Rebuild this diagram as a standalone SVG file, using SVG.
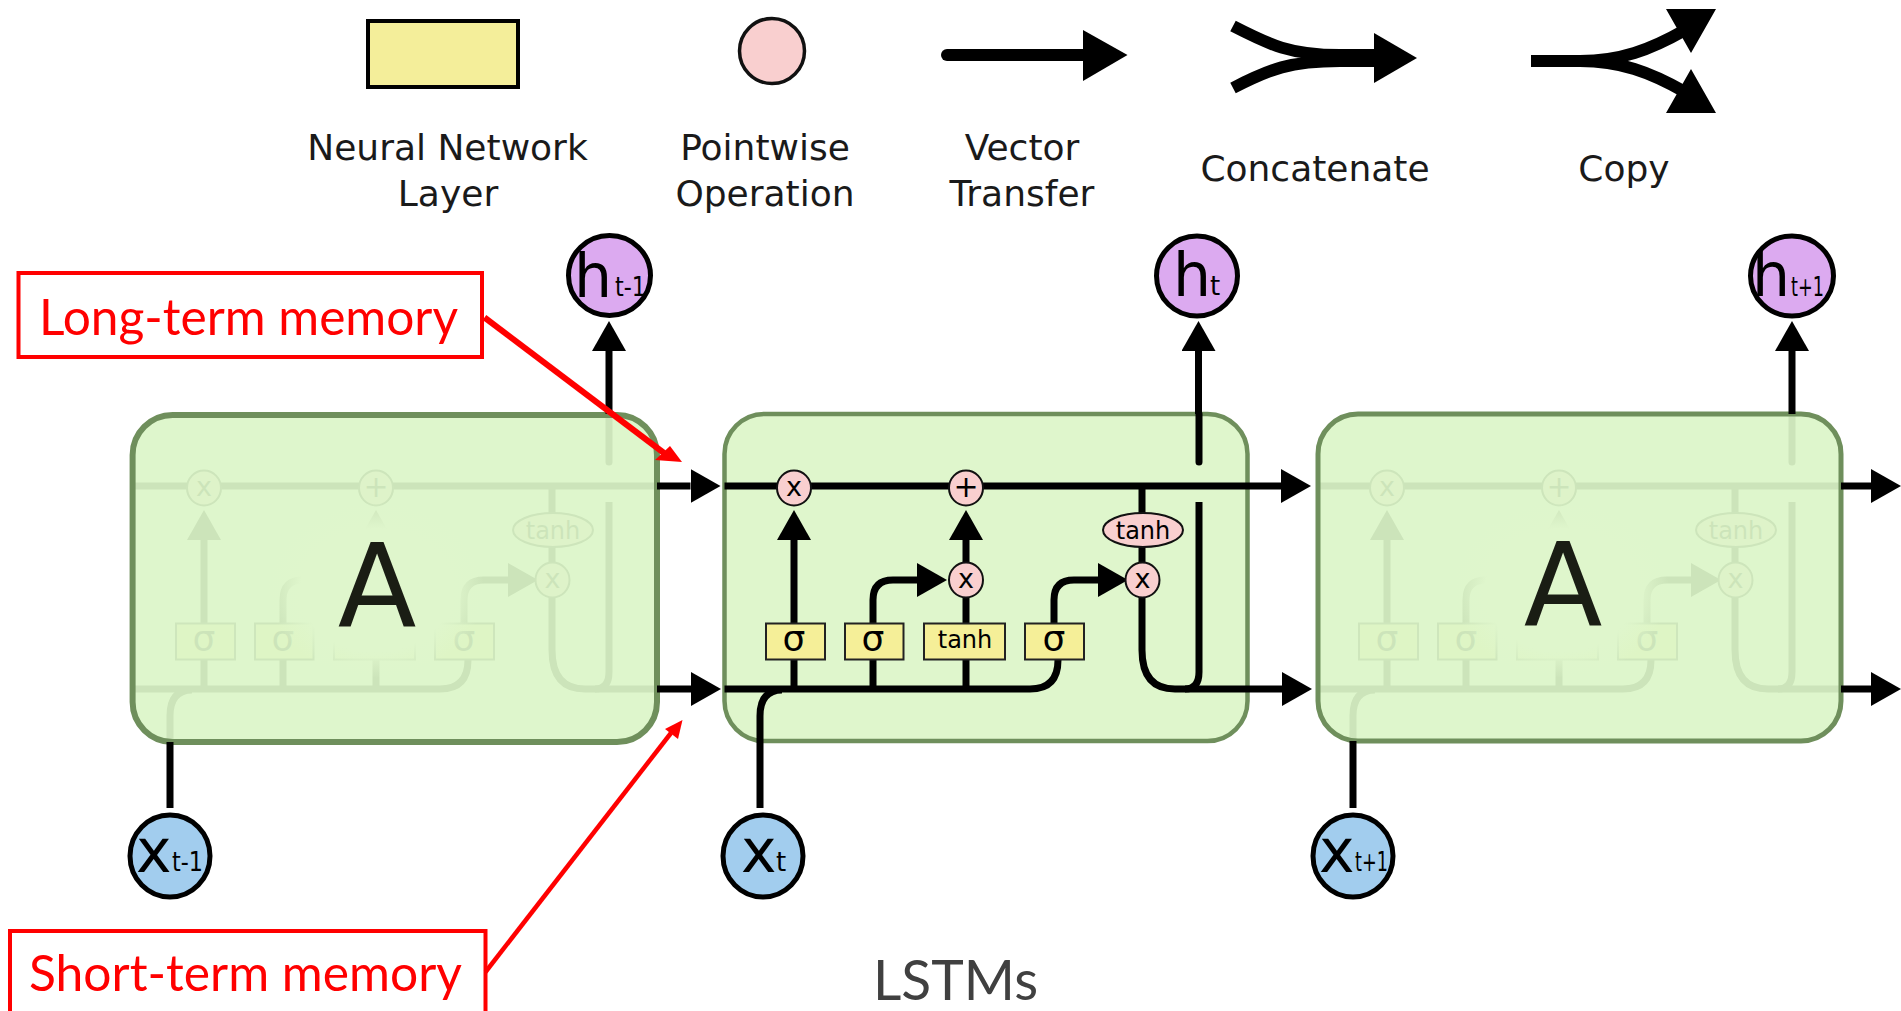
<svg xmlns="http://www.w3.org/2000/svg" width="1901" height="1011" viewBox="0 0 1901 1011">
<style>
text{font-family:"DejaVu Sans",sans-serif;fill:#000;text-anchor:middle}
.legend{font-size:36px;fill:#1a1a1a}
.ln{fill:none;stroke:#000;stroke-width:7;stroke-linecap:butt}
.arrow{marker-end:url(#head)}
.lgl{fill:none;stroke:#000;stroke-width:12}
.tip{fill:#000}
.op{fill:#f9cfcf;stroke:#111;stroke-width:2}
.layer{fill:#f5ef98;stroke:#222;stroke-width:2}
.sig{font-size:36px}
.tanh{font-size:24px}
.opt{font-size:27px}
.cell{stroke:#6f8f5c;stroke-width:5;fill:#dcf5c8}
.veil{fill-opacity:.93}
.big{font-size:115px;fill:#1a1d14}
.h{fill:#dcaaf0;stroke:#000;stroke-width:5}
.x{fill:#a2cdee;stroke:#000;stroke-width:5}
.main{text-anchor:start;font-size:60px}
.sub{text-anchor:start;font-size:26px}
.red{fill:#fff;stroke:#f00;stroke-width:4}
.note{font-family:Lato,"Open Sans",sans-serif;font-size:50px;fill:#f00;text-anchor:start}
.rl{stroke:#f00;fill:none}
</style>
<defs>
<marker id="head" markerUnits="userSpaceOnUse" markerWidth="30" markerHeight="34" refX="0" refY="17" orient="auto"><path d="M0,0L30,17L0,34Z" fill="#000"/></marker>
<radialGradient id="glow"><stop offset="0" stop-color="#dff6cc"/><stop offset=".7" stop-color="#dff6cc"/><stop offset="1" stop-color="#dff6cc" stop-opacity="0"/></radialGradient>
</defs>

<g id="legend-layer"><rect x="368" y="21" width="150" height="66" fill="#f4ee9a" stroke="#000" stroke-width="4"/><text class="legend" x="447.500" y="160">Neural Network</text><text class="legend" x="448" y="206">Layer</text></g>
<g id="legend-operation"><circle cx="772" cy="51" r="32.500" fill="#f9cfcf" stroke="#111" stroke-width="3.500"/><text class="legend" x="765" y="160">Pointwise</text><text class="legend" x="765" y="206">Operation</text></g>
<g id="legend-transfer"><path d="M947,55H1084" fill="none" stroke="#000" stroke-width="12" stroke-linecap="round"/><path class="tip" d="M1083,30L1127.500,55L1083,81Z"/><text class="legend" x="1022" y="160">Vector</text><text class="legend" x="1022" y="206">Transfer</text></g>
<g id="legend-concatenate"><path class="lgl" d="M1233,26C1270,45 1290,55 1340,55H1380M1233,88C1270,69 1290,61 1340,61H1380"/><path class="tip" d="M1374,33L1417,58L1374,83Z"/><text class="legend" x="1315" y="181">Concatenate</text></g>
<g id="legend-copy"><path class="lgl" d="M1531,61H1580C1620,61 1650,50 1685,30M1580,61C1620,61 1650,72 1685,92"/><path class="tip" d="M1666,9L1716,9L1691,53ZM1691,69L1716,113L1666,113Z"/><text class="legend" x="1624" y="181">Copy</text></g>

<g id="cell-left">
<use href="#mid-lines" x="-590"/><use href="#mid-nodes" x="-590"/>
<rect class="cell veil" x="132.600" y="415" width="524.400" height="327" rx="40" style="stroke-width:6"/>
<ellipse cx="376" cy="590" rx="108" ry="88" fill="url(#glow)"/>
<text class="big" x="377" y="627">A</text>
</g>
<g id="cell-right">
<use href="#mid-lines" x="593"/><use href="#mid-nodes" x="593"/>
<rect class="cell veil" x="1318" y="414" width="523" height="327" rx="40"/>
<ellipse cx="1561" cy="590" rx="108" ry="88" fill="url(#glow)"/>
<text class="big" x="1563" y="626">A</text>
</g>
<g id="cell-middle"><rect class="cell" x="724.500" y="414" width="523" height="327" rx="40" style="fill:#dff6cc;stroke-width:4.500"/></g>

<g id="connectors">
<g id="mid-lines">
<path class="ln" d="M724.500,486H1247"/>
<path class="ln" d="M724.500,689H1030Q1058,689 1058,660"/>
<path class="ln" d="M760,741V716Q760,690 782,690"/>
<path class="ln" d="M794,659V689M873,659V689M966,659V689"/>
<path class="ln arrow" d="M794,623V540"/>
<path class="ln arrow" d="M873,623V600Q873,580 893,580H917"/>
<path class="ln" d="M966,623V597"/>
<path class="ln arrow" d="M966,563V540"/>
<path class="ln arrow" d="M1054,623V600Q1054,580 1074,580H1098"/>
<path class="ln" d="M1142,486V513M1142,547V563"/>
<path class="ln" d="M1142,597V650Q1142,689 1175,689H1247"/>
<path class="ln" d="M1199,414V462" style="stroke-linecap:round"/>
<path class="ln" d="M1199,502V672Q1199,689 1185,689"/>
</g>
<path class="ln arrow" d="M657,486H690.500"/>
<path class="ln arrow" d="M657,689H691"/>
<path class="ln arrow" d="M1247,486H1281"/>
<path class="ln arrow" d="M1247,689H1282"/>
<path class="ln arrow" d="M1841,486H1871"/>
<path class="ln arrow" d="M1841,689H1871"/>
<path class="ln arrow" d="M609,414V351"/>
<path class="ln arrow" d="M1198.500,414V351"/>
<path class="ln arrow" d="M1792,414V351"/>
<path class="ln" d="M170,742V808"/>
<path class="ln" d="M760,741V808"/>
<path class="ln" d="M1353,741V808"/>
</g>

<g id="mid-nodes">
<g id="op-forget"><ellipse class="op" cx="794" cy="488" rx="17" ry="17.500"/><text class="opt" x="794" y="496">x</text></g>
<g id="op-add"><ellipse class="op" cx="966" cy="488" rx="17" ry="17.500"/><text x="966" y="497" style="font-size:30px">+</text></g>
<g id="op-input"><ellipse class="op" cx="966" cy="580" rx="17" ry="17.500"/><text class="opt" x="966" y="588">x</text></g>
<g id="op-output"><ellipse class="op" cx="1142.500" cy="580" rx="17" ry="17.500"/><text class="opt" x="1142.500" y="588">x</text></g>
<g id="op-tanh"><ellipse class="op" cx="1143" cy="530" rx="40" ry="17"/><text class="tanh" x="1143" y="539">tanh</text></g>
<g id="layer-forget"><rect class="layer" x="766" y="623.500" width="59" height="36"/><text class="sig" x="794" y="651">σ</text></g>
<g id="layer-input"><rect class="layer" x="845" y="623.500" width="58.500" height="36"/><text class="sig" x="873" y="651">σ</text></g>
<g id="layer-tanh"><rect class="layer" x="924" y="623.500" width="81" height="36"/><text class="tanh" x="965" y="648">tanh</text></g>
<g id="layer-output"><rect class="layer" x="1025" y="623.500" width="59" height="36"/><text class="sig" x="1054" y="651">σ</text></g>
</g>

<g id="h-prev"><ellipse class="h" cx="609.500" cy="275.500" rx="41" ry="40"/><text class="main" x="574" y="296.500">h</text><text class="sub" x="615" y="296" textLength="31" lengthAdjust="spacingAndGlyphs">t-1</text></g>
<g id="h-cur"><ellipse class="h" cx="1197" cy="276" rx="40.500" ry="40"/><text class="main" x="1173" y="295.500">h</text><text class="sub" x="1210" y="295">t</text></g>
<g id="h-next"><ellipse class="h" cx="1792" cy="276" rx="41.500" ry="40"/><text class="main" x="1752" y="296">h</text><text class="sub" x="1791" y="296" textLength="33" lengthAdjust="spacingAndGlyphs">t+1</text></g>
<g id="x-prev"><ellipse class="x" cx="170" cy="856" rx="40" ry="41"/><text class="main" x="136" y="872">x</text><text class="sub" x="172" y="871" textLength="31" lengthAdjust="spacingAndGlyphs">t-1</text></g>
<g id="x-cur"><ellipse class="x" cx="763" cy="856" rx="40" ry="41"/><text class="main" x="741" y="872">x</text><text class="sub" x="776" y="871">t</text></g>
<g id="x-next"><ellipse class="x" cx="1353" cy="856" rx="40" ry="41"/><text class="main" x="1319" y="872">x</text><text class="sub" x="1355" y="871" textLength="33" lengthAdjust="spacingAndGlyphs">t+1</text></g>

<g id="note-long"><rect class="red" x="18.500" y="273" width="463.500" height="84"/><text class="note" x="39" y="334.500" textLength="419" lengthAdjust="spacingAndGlyphs">Long-term memory</text></g>
<g id="note-short"><rect class="red" x="10" y="931" width="475.500" height="100"/><text class="note" x="29" y="991" textLength="433" lengthAdjust="spacingAndGlyphs">Short-term memory</text></g>
<g id="note-connectors">
<path class="rl" stroke-width="6" d="M484.500,317.500L664,453"/><path fill="#f00" d="M682,462L655,460L670,446Z"/>
<path class="rl" stroke-width="4.500" d="M485.500,972L671,733"/><path fill="#f00" d="M682.500,720L665,729L678,739Z"/>
</g>
<g id="caption"><text x="955.500" y="1000" textLength="165" lengthAdjust="spacingAndGlyphs" style="font-family:Lato,'Open Sans',sans-serif;font-size:56px;fill:#404040">LSTMs</text></g>
</svg>
